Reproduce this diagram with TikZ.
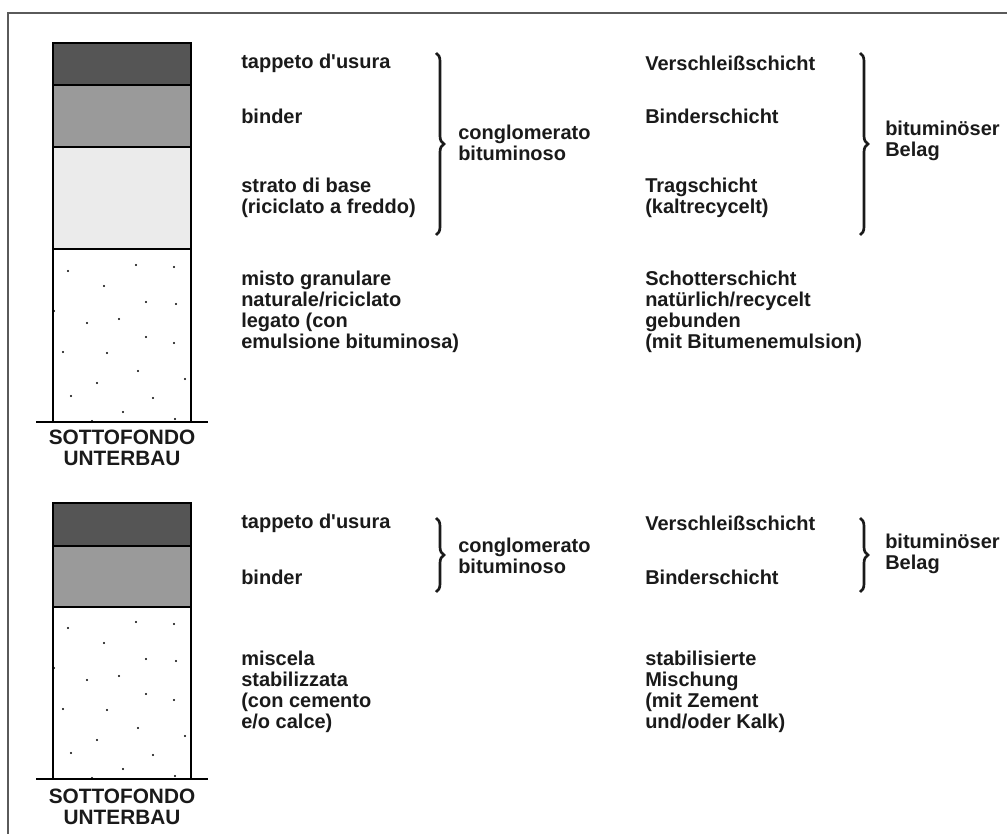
\documentclass[tikz,border=0pt]{standalone}
\usepackage{fontspec}
\setmainfont{Liberation Sans}
\usetikzlibrary{decorations.pathreplacing}
\definecolor{framegray}{HTML}{5A5A5A}
\definecolor{darklayer}{HTML}{555555}
\definecolor{midlayer}{HTML}{9A9A9A}
\definecolor{lightlayer}{HTML}{EBEBEB}
\definecolor{ink}{HTML}{1A1A1A}
\begin{document}
\begin{tikzpicture}[x=0.75pt,y=-0.75pt,
  lbl/.style={anchor=west, inner sep=0pt, align=left,
    font=\fontsize{15}{15.75}\selectfont\bfseries, text=ink},
  base/.style={anchor=center, inner sep=0pt, align=center,
    font=\fontsize{15.6}{15.75}\selectfont\bfseries, text=ink},
  bracestyle/.style={decorate, decoration={brace, amplitude=6pt}, line width=2pt, draw=ink},
  layerline/.style={draw=black, line width=1pt},
  dot/.style={fill=black}]
\useasboundingbox (0,0) rectangle (1007,834);
% frame
\draw[framegray, line width=1.6pt] (1007,13) -- (8,13) -- (8,834);

% ---------- top panel ----------
\fill[darklayer] (53,43) rectangle (191,85);
\fill[midlayer] (53,85) rectangle (191,147);
\fill[lightlayer] (53,147) rectangle (191,249);
\draw[layerline] (53,422) -- (53,43) -- (191,43) -- (191,422);
\draw[layerline] (53,85) -- (191,85) (53,147) -- (191,147) (53,249) -- (191,249);
\draw[layerline] (36,422) -- (208,422);
\foreach \dx/\dy in {68/22,136/16,174/18,104/37,146/53,176/55,54/62,87/74,119/70,146/88,174/94,63/103,107/104,138/122,185/130,97/134,71/147,153/149,123/163,92/172,175/170}
  \fill[dot] (\dx,249+\dy) circle (0.9pt);

\node[base] (sf1) at (122,447.5) {SOTTOFONDO\\UNTERBAU};
\node[lbl] (it1) at (241,63) {tappeto d\textquotesingle usura};
\node[lbl] (it2) at (241,116) {binder};
\node[lbl] (it3) at (241,197.5) {strato di base\\(riciclato a freddo)};
\node[lbl] (it4) at (241,311.5) {misto granulare\\naturale/riciclato\\legato (con\\emulsione bituminosa)};
\node[lbl] (de1) at (645,63) {Verschleißschicht};
\node[lbl] (de2) at (645,116) {Binderschicht};
\node[lbl] (de3) at (645,197.5) {Tragschicht\\(kaltrecycelt)};
\node[lbl] (de4) at (645,311.5) {Schotterschicht\\natürlich/recycelt\\gebunden\\(mit Bitumenemulsion)};
\coordinate (b1s) at (436,53); \coordinate (b1e) at (436,235);
\draw[bracestyle] (b1s) -- (b1e);
\node[lbl] (cb1) at (458,143) {conglomerato\\bituminoso};
\coordinate (b2s) at (860,53); \coordinate (b2e) at (860,235);
\draw[bracestyle] (b2s) -- (b2e);
\node[lbl] (bb1) at (885,141) {bituminöser\\Belag};

% ---------- bottom panel ----------
\fill[darklayer] (53,503) rectangle (191,546);
\fill[midlayer] (53,546) rectangle (191,607);
\draw[layerline] (53,779) -- (53,503) -- (191,503) -- (191,779);
\draw[layerline] (53,546) -- (191,546) (53,607) -- (191,607);
\draw[layerline] (36,779) -- (208,779);
\foreach \dx/\dy in {68/22,136/16,174/18,104/37,146/53,176/55,54/62,87/74,119/70,146/88,174/94,63/103,107/104,138/122,185/130,97/134,71/147,153/149,123/163,92/172,175/170}
  \fill[dot] (\dx,606+\dy) circle (0.9pt);

\node[base] (sf2) at (122,807) {SOTTOFONDO\\UNTERBAU};
\node[lbl] (it5) at (241,523) {tappeto d\textquotesingle usura};
\node[lbl] (it6) at (241,577) {binder};
\node[lbl] (it7) at (241,692) {miscela\\stabilizzata\\(con cemento\\e/o calce)};
\node[lbl] (de5) at (645,523) {Verschleißschicht};
\node[lbl] (de6) at (645,577) {Binderschicht};
\node[lbl] (de7) at (645,692) {stabilisierte\\Mischung\\(mit Zement\\und/oder Kalk)};
\coordinate (b3s) at (436,518); \coordinate (b3e) at (436,592);
\draw[bracestyle] (b3s) -- (b3e);
\node[lbl] (cb2) at (458,556) {conglomerato\\bituminoso};
\coordinate (b4s) at (860,518); \coordinate (b4e) at (860,592);
\draw[bracestyle] (b4s) -- (b4e);
\node[lbl] (bb2) at (885,554) {bituminöser\\Belag};
\end{tikzpicture}
\end{document}
